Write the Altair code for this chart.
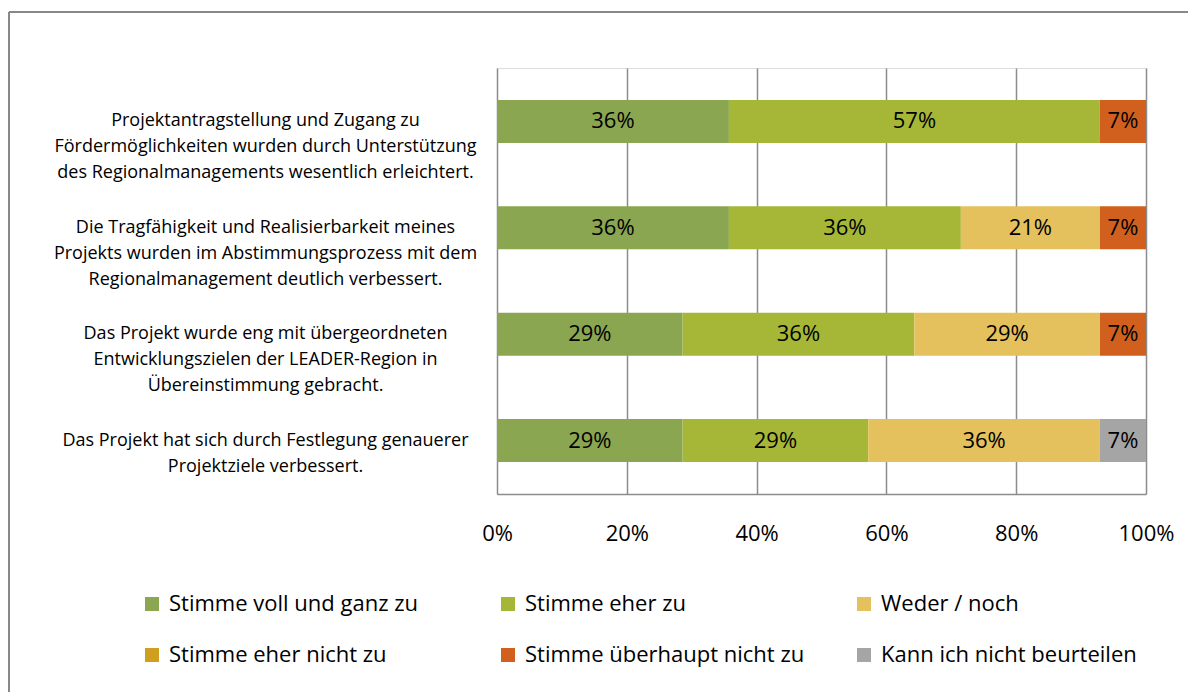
import altair as alt
import pandas as pd

questions = [
    "Projektantragstellung und Zugang zu|Fördermöglichkeiten wurden durch Unterstützung|des Regionalmanagements wesentlich erleichtert.",
    "Die Tragfähigkeit und Realisierbarkeit meines|Projekts wurden im Abstimmungsprozess mit dem|Regionalmanagement deutlich verbessert.",
    "Das Projekt wurde eng mit übergeordneten|Entwicklungszielen der LEADER-Region in|Übereinstimmung gebracht.",
    "Das Projekt hat sich durch Festlegung genauerer|Projektziele verbessert.",
]
answers = [
    "Stimme voll und ganz zu",
    "Stimme eher zu",
    "Weder / noch",
    "Stimme eher nicht zu",
    "Stimme überhaupt nicht zu",
    "Kann ich nicht beurteilen",
]
colors = ["#8BA650", "#A6B737", "#E5C15D", "#D19F1F", "#D1601F", "#A5A5A5"]

# shares in percent, one list per answer (order of questions)
voll = [35.7, 35.7, 28.6, 28.6]
eher = [57.1, 35.7, 35.7, 28.6]
weder = [0.0, 21.4, 28.6, 35.7]
eher_nicht = [0.0, 0.0, 0.0, 0.0]
ueberhaupt_nicht = [7.1, 7.1, 7.1, 0.0]
kann_nicht = [0.0, 0.0, 0.0, 7.1]
series = [voll, eher, weder, eher_nicht, ueberhaupt_nicht, kann_nicht]

rows = []
for ai, (ans, vals) in enumerate(zip(answers, series)):
    for qi, q in enumerate(questions):
        rows.append({"q": q, "answer": ans, "order": ai, "value": vals[qi]})
df = pd.DataFrame(rows)

base = alt.Chart(df).transform_stack(
    stack="value", groupby=["q"], sort=[alt.SortField("order")],
    as_=["x0", "x1"], offset="normalize"
).transform_calculate(
    mid="(datum.x0 + datum.x1) / 2",
    pct="format(datum.value, '.0f') + '%'",
)

yenc = alt.Y(
    "q:N", sort=questions, title=None,
    scale=alt.Scale(paddingInner=0.595, paddingOuter=0.3),
    axis=alt.Axis(
        labelExpr="split(datum.label, '|')", labelAlign="center",
        labelPadding=232, labelLimit=0, labelFontSize=18, labelLineHeight=26,
        labelColor="#000000", labelFont="Open Sans", ticks=False,
        domain=False, grid=False,
    ),
)

bars = base.mark_bar().encode(
    x=alt.X(
        "x0:Q", title=None, scale=alt.Scale(domain=[0, 1], nice=False),
        axis=alt.Axis(
            format=".0%", values=[0, 0.2, 0.4, 0.6, 0.8, 1.0],
            grid=True, gridColor="#8c8c8c", gridWidth=1.5,
            domainColor="#8c8c8c", domainWidth=1.5, ticks=False,
            labelFontSize=22, labelPadding=29, labelColor="#000000",
            labelFont="Open Sans", labelFlush=False,
        ),
    ),
    x2="x1:Q",
    y=yenc,
    color=alt.Color(
        "answer:N",
        scale=alt.Scale(domain=answers, range=colors),
        sort=answers,
        legend=alt.Legend(
            title=None, orient="none", legendX=-356, legendY=525,
            direction="horizontal", columns=3, symbolType="square",
            symbolSize=196, symbolStrokeWidth=0, labelFontSize=22,
            labelFont="Open Sans", labelColor="#000000", gridAlign="all",
            columnPadding=48, rowPadding=29, labelOffset=6, labelLimit=0,
        ),
    ),
    order=alt.Order("order:Q"),
)

labels = base.transform_filter("datum.value > 0").mark_text(
    fontSize=22, font="Open Sans", color="#000000"
).encode(
    x=alt.X("mid:Q"),
    y=alt.Y("q:N", sort=questions),
    text="pct:N",
)

frame_top = alt.Chart(pd.DataFrame({"a": [0]})).mark_rule(
    color="#888888", strokeWidth=2
).encode(x=alt.value(-488), x2=alt.value(720), y=alt.value(-56))
frame_left = alt.Chart(pd.DataFrame({"a": [0]})).mark_rule(
    color="#888888", strokeWidth=2
).encode(x=alt.value(-488), y=alt.value(-56), y2=alt.value(640))

chart = alt.layer(bars, labels, frame_top, frame_left).properties(
    width=649, height=426,
    padding={"left": 489, "top": 60, "right": 42, "bottom": 198},
    autosize=alt.AutoSizeParams(type="none"),
).configure_view(stroke=None).configure(background="white")

chart.save("out.html", embed_options={"renderer": "svg", "actions": False})
